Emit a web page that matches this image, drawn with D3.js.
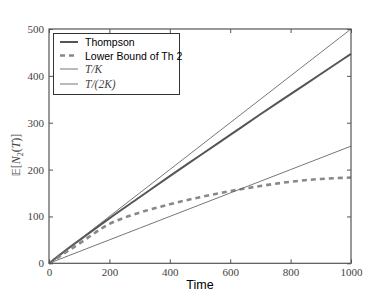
<!DOCTYPE html>
<html>
<head>
<meta charset="utf-8">
<script src="https://cdn.jsdelivr.net/npm/d3@7"></script>
<style>
body { margin: 0; background: #fff; }
</style>
</head>
<body>
<svg width="390" height="293"></svg>
<script>
var time = [0, 50, 100, 200, 300, 400, 500, 600, 700, 800, 900, 1000];
var thompson = [0, 25, 49, 96, 141, 186, 230, 274, 318, 361, 404, 447];
var lowerBound = [0, 21, 42, 84, 108, 126, 141, 154, 165, 174, 180, 183];
var tOverK = [0, 25, 50, 100, 150, 200, 250, 300, 350, 400, 450, 500];
var tOver2K = [0, 12.5, 25, 50, 75, 100, 125, 150, 175, 200, 225, 250];
var xTicks = [0, 200, 400, 600, 800, 1000];
var yTicks = [0, 100, 200, 300, 400, 500];

var svg = d3.select("svg"),
    plotL = 49, plotR = 351, plotT = 29, plotB = 263.3;

var xScale = d3.scaleLinear().domain([0, 1000]).range([plotL, plotR]);
var yScale = d3.scaleLinear().domain([0, 500]).range([plotB, plotT]);

var axisColor = "#555";

// series lines
var series = [
  {name: "Thompson", values: thompson, color: "#555", width: 2, dash: null},
  {name: "Lower Bound of Th 2", values: lowerBound, color: "#888", width: 2.6, dash: "5,4"},
  {name: "T/K", values: tOverK, color: "#666", width: 0.9, dash: null},
  {name: "T/(2K)", values: tOver2K, color: "#666", width: 0.9, dash: null}
];

var line = d3.line()
  .x(function(d, i) { return xScale(time[i]); })
  .y(function(d) { return yScale(d); })
  .curve(d3.curveMonotoneX);

svg.append("g").selectAll("path")
  .data(series)
  .enter().append("path")
  .attr("d", function(s) { return line(s.values); })
  .attr("fill", "none")
  .attr("stroke", function(s) { return s.color; })
  .attr("stroke-width", function(s) { return s.width; })
  .attr("stroke-dasharray", function(s) { return s.dash; });

// axes with inward ticks on all sides
var tickFont = "'Liberation Serif', 'DejaVu Serif', serif";
var sansFont = "'Liberation Sans', Arial, sans-serif";
svg.append("g")
  .attr("transform", "translate(0," + plotB + ")")
  .call(d3.axisBottom(xScale).tickValues(xTicks).tickSize(-4).tickPadding(3).tickFormat(d3.format("d")))
  .call(function(g) {
    g.select(".domain").remove();
    g.selectAll("line").attr("stroke", axisColor);
    g.selectAll("text").attr("font-family", tickFont).attr("font-size", 11).attr("fill", "#444").attr("dy", "0.9em");
  });
svg.append("g")
  .attr("transform", "translate(0," + plotT + ")")
  .call(d3.axisTop(xScale).tickValues(xTicks).tickSize(-4).tickFormat(""))
  .call(function(g) { g.select(".domain").remove(); g.selectAll("line").attr("stroke", axisColor); });
svg.append("g")
  .attr("transform", "translate(" + plotL + ",0)")
  .call(d3.axisLeft(yScale).tickValues(yTicks).tickSize(-4).tickPadding(5).tickFormat(d3.format("d")))
  .call(function(g) {
    g.select(".domain").remove();
    g.selectAll("line").attr("stroke", axisColor);
    g.selectAll("text").attr("font-family", tickFont).attr("font-size", 11).attr("fill", "#444");
  });
svg.append("g")
  .attr("transform", "translate(" + plotR + ",0)")
  .call(d3.axisRight(yScale).tickValues(yTicks).tickSize(-4).tickFormat(""))
  .call(function(g) { g.select(".domain").remove(); g.selectAll("line").attr("stroke", axisColor); });

svg.append("rect")
  .attr("x", plotL).attr("y", plotT)
  .attr("width", plotR - plotL).attr("height", plotB - plotT)
  .attr("fill", "none").attr("stroke", axisColor).attr("stroke-width", 1.2);

// axis labels
svg.append("text")
  .attr("x", (plotL + plotR) / 2).attr("y", 289)
  .attr("text-anchor", "middle")
  .attr("font-family", sansFont)
  .attr("font-size", 12.5)
  .text("Time");

var yl = svg.append("text")
  .attr("transform", "translate(20,155) rotate(-90)")
  .attr("text-anchor", "middle")
  .attr("font-family", tickFont)
  .attr("font-size", 12)
  .attr("fill", "#444");
yl.append("tspan").attr("font-family", "'DejaVu Sans', sans-serif").attr("font-size", 11).text("𝔼");
yl.append("tspan").text("[");
yl.append("tspan").attr("font-style", "italic").text("N");
yl.append("tspan").attr("font-size", 8).attr("dy", 3).text("2");
yl.append("tspan").attr("dy", -3).text("(");
yl.append("tspan").attr("font-style", "italic").text("T");
yl.append("tspan").text(")]");

// legend
var legend = svg.append("g");
legend.append("rect")
  .attr("x", 53.5).attr("y", 33.5).attr("width", 126).attr("height", 61)
  .attr("fill", "#fff").attr("stroke", "#333").attr("stroke-width", 1);
var rowY = [42, 55.5, 69, 84];
series.forEach(function(s, i) {
  legend.append("line")
    .attr("x1", 60).attr("x2", 78)
    .attr("y1", rowY[i]).attr("y2", rowY[i])
    .attr("stroke", s.color)
    .attr("stroke-width", s.width)
    .attr("stroke-dasharray", s.dash);
  var t = legend.append("text")
    .attr("x", 85).attr("y", rowY[i] + 4);
  if (i < 2) {
    t.attr("font-family", sansFont).attr("font-size", 10.5).text(s.name);
  } else {
    t.attr("font-family", tickFont).attr("font-size", 11.5).attr("font-style", "italic").attr("fill", "#444").text(s.name);
  }
});
</script>
</body>
</html>
